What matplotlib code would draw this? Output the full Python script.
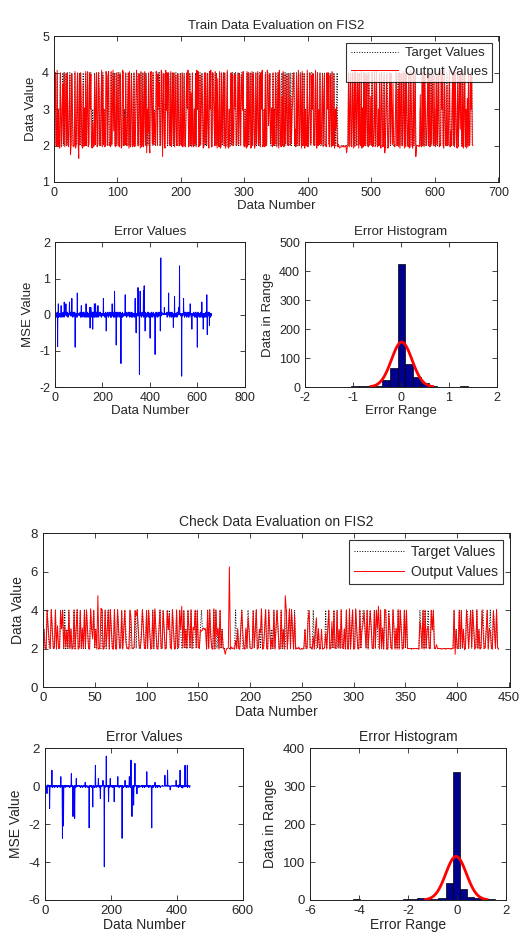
import matplotlib
matplotlib.use('Agg')
import matplotlib.pyplot as plt
import numpy as np

plt.rcParams['font.family'] = ['Liberation Sans', 'DejaVu Sans']
plt.rcParams['axes.unicode_minus'] = False
plt.rcParams['text.color'] = '#262626'
plt.rcParams['axes.labelcolor'] = '#262626'


def digits(s):
    return np.array([int(c) for c in "".join(s.split())], dtype=float)


# ---- train data (target classes, small error digits, big error spikes) ----
train_target = digits("""
3422423224 2234242342 4223422432 2242234224 2432242324 2342243422
3224234224 4223424232 2442342224 2343422423 4224322442 3242234242
2432242234 4224324224 2342423242 2443242322 4424342244 2342243424
4224234242 3422432242 2423422343 4224232422 3242434224 2343224242
3422434224 4324242322 4224234242 2342232242 4224342234 2432443422
3224242342 2424322423 4224243422 3242244334 2232423244 2342422242
4224234224 3242344422 2423422432 4224232242 2342243422 3422423242
2242342224 3422432422 4232342222 2222222222 2224234224 3242432442
4224232424 2342242232 4223423422 3242243224 2234422342 4322222342
2424234224 3242432242 2432242342 2222223224 2424322342 4224234223
2242342224 3422432242 2342223424 2432242343 4224234232 3242243422
""")
train_noise = digits("""
5645365475 4657356465 5364754635 6547465356 4565736454 5746354657
3656475645 6455367456 5475645364 4635746556 5566475345 6453565746
5736456453 4556374655 6345765453 5647354765 4756365436 5465736545
6354675456 4745635564 5563746453 3657456546 5476354657 4563765354
5647453665 6354567436 4765346557 5436756453 6547365445 4655736456
5374654657 6456374546 4537655364 5665437456 3746556453 6457345665
4656357456 5563746545 6745354657 4536765436 5654375645 6347556453
4566375465 5536746455 6754356467 6666566656 6656666566 5736455647
6453746556 5374654365 4657365446 5563754657 3656475654 6547356445
5465736554 4756354657 6345765436 5555655565 5465754635 4657365546
6374556453 5647365465 4536756453 6545736456 5364754657 4655365645
""")
train_spikes = {
    10: -0.88, 13: 0.30, 25: 0.25, 38: 0.35, 45: 0.30, 60: 0.35, 70: 0.45,
    84: -0.90, 93: 0.60, 110: 0.25, 130: 0.30, 145: 0.20, 147: -0.37,
    150: 0.20, 158: -0.40, 165: 0.30, 170: 0.30, 180: 0.25, 203: 0.45,
    215: -0.45, 240: 0.30, 250: 0.65, 257: -0.84, 277: -1.35, 295: 0.55,
    337: 0.45, 341: -0.50, 349: 0.75, 355: -1.65, 358: 0.65, 372: 0.67,
    375: 0.80, 379: -0.45, 400: -0.65, 421: -1.10, 443: -0.45, 445: 1.57,
    460: 0.20, 478: 0.60, 498: -0.35, 503: 0.50, 520: 0.20, 524: 1.35,
    533: -1.70, 541: 0.45, 569: 0.30, 576: -0.40, 599: -0.90, 618: 0.35,
    624: -0.40, 639: 0.55, 641: -0.55, 650: -0.30,
}
train_hist_range = (-1.70, 1.57)
train_hist_counts = [1, 1, 1, 1, 2, 5, 3, 5, 25, 65, 425, 80, 35, 15, 5, 1, 0, 0, 2, 1]
train_fit = dict(mu=0.02, sigma=0.215, peak=155)

# ---- check data ----
check_target = digits("""
3224322432 2422224342 4232423224 2342242324 2432243342 3222224224
2342432242 2432242343 2224222242 4322343224 2432242432 2342243224
3422432242 2432242324 3242234242 2343333242 4322424232 4232222222
2222242322 3422232432 2242342232 4223422432 3242343224 2322423424
3242222222 2232244222 4232232222 2242342232 4224232422 3242242342
2432242344 3242343224 2432242324 4224322432 3242432242 4222222222
2224324242 3422434222 2222222222 2222224232 2424232244 2342432242
3224422342 3422432422
""")
check_noise = digits("""
5465365475 4567356465 5364654635 6546465356 4565636454 5646354656
3656465645 6455366456 5465645364 4635646556 5566465345 6453565646
5636456453 4556364655 6345665453 5646354665 4656365436 5465636545
6354665456 4645635564 5563646453 3656456546 5466354656 4563665354
5646453665 6354566436 4665346556 5436656453 6546365445 4655636456
5364654657 6456364546 4536655364 5665436456 3646556453 5555565555
5565555655 5655565555 5555655565 5556555565 4656357456 5563646545
6645354656 4536665436
""")
check_spikes = {
    5: -0.39, 13: -1.18, 20: 0.84, 47: 0.50, 52: -2.75, 55: -2.10, 79: 0.66,
    84: -1.60, 89: -1.70, 94: 0.40, 121: 0.20, 133: -2.20, 144: -1.10,
    152: 1.10, 161: 0.40, 167: -0.65, 175: 0.30, 179: -4.25, 185: 1.58,
    192: -0.82, 197: 0.40, 209: -0.82, 220: 0.50, 233: -2.75, 242: 0.30,
    255: 0.50, 260: 1.37, 263: -1.60, 268: -1.00, 272: 1.20, 278: -0.40,
    308: 0.76, 323: -2.20, 333: 0.20, 363: 0.57, 371: 0.84, 379: -0.20,
    397: 0.30, 409: 0.84, 417: -0.10, 424: 1.10, 431: 1.10,
}
check_hist_range = (-4.25, 1.58)
check_hist_counts = [2, 0, 0, 0, 1, 0, 1, 2, 3, 4, 2, 2, 5, 45, 338, 28, 8, 5, 3, 2]
check_fit = dict(mu=-0.03, sigma=0.42, peak=115)

assert len(train_target) == len(train_noise) == 660
assert len(check_target) == len(check_noise) == 440


def build_error(noise, spikes):
    err = (noise - 5) * 0.035
    for i, v in spikes.items():
        err[i] = v
    return err


W, H = 522, 936
fig = plt.figure(figsize=(W / 100, H / 100), dpi=100)


def px_axes(l, t, r, b):
    return fig.add_axes([l / W, 1 - b / H, (r - l) / W, (b - t) / H])


def style(ax, fs):
    ax.tick_params(direction='in', top=True, right=True, length=3.5, width=0.6,
                   labelsize=fs, colors='#262626')
    for sp in ax.spines.values():
        sp.set_linewidth(0.7)
        sp.set_color('#202020')


def draw_set(target, noise, spikes, hist_range, hist_counts, fit, name, rects, lims, fs):
    err = build_error(noise, spikes)
    output = target - err
    x = np.arange(1, len(target) + 1)
    tfs, lfs = fs

    ax = px_axes(*rects[0])
    ax.plot(x, target, 'k:', lw=0.7, label='Target Values')
    ax.plot(x, output, color='r', lw=0.7, label='Output Values')
    ax.set_xlim(*lims['main_x'][:2])
    ax.set_xticks(np.arange(*lims['main_x']))
    ax.set_ylim(*lims['main_y'][:2])
    ax.set_yticks(np.arange(*lims['main_y']))
    ax.set_title('%s Data Evaluation on FIS2' % name, fontsize=lfs, pad=5)
    ax.set_xlabel('Data Number', fontsize=lfs, labelpad=1)
    ax.set_ylabel('Data Value', fontsize=lfs, labelpad=4)
    leg = ax.legend(loc='upper right', fontsize=lfs, fancybox=False, handlelength=3.6,
                    borderaxespad=0.5, borderpad=0.35, labelspacing=0.45, handletextpad=0.5)
    leg.get_frame().set_edgecolor('k')
    leg.get_frame().set_linewidth(0.8)
    style(ax, tfs)

    ax = px_axes(*rects[1])
    ax.plot(x, err, color='b', lw=0.7)
    ax.set_xlim(*lims['err_x'][:2])
    ax.set_xticks(np.arange(*lims['err_x']))
    ax.set_ylim(*lims['err_y'][:2])
    ax.set_yticks(np.arange(*lims['err_y']))
    ax.set_title('Error Values', fontsize=lfs, pad=5)
    ax.set_xlabel('Data Number', fontsize=lfs, labelpad=1)
    ax.set_ylabel('MSE Value', fontsize=lfs, labelpad=4)
    style(ax, tfs)

    ax = px_axes(*rects[2])
    lo, hi = hist_range
    nb = len(hist_counts)
    w = (hi - lo) / nb
    centers = lo + w * (np.arange(nb) + 0.5)
    ax.bar(centers, hist_counts, width=w, color='#00008F', edgecolor='k', lw=0.5)
    fx = np.linspace(fit['mu'] - 3 * fit['sigma'], fit['mu'] + 3 * fit['sigma'], 120)
    fy = fit['peak'] * np.exp(-(fx - fit['mu']) ** 2 / (2 * fit['sigma'] ** 2))
    ax.plot(fx, fy, color='r', lw=2)
    ax.set_xlim(*lims['hist_x'][:2])
    ax.set_xticks(np.arange(*lims['hist_x']))
    ax.set_ylim(*lims['hist_y'][:2])
    ax.set_yticks(np.arange(*lims['hist_y']))
    ax.set_title('Error Histogram', fontsize=lfs, pad=5)
    ax.set_xlabel('Error Range', fontsize=lfs, labelpad=1)
    ax.set_ylabel('Data in Range', fontsize=lfs, labelpad=4)
    style(ax, tfs)


draw_set(train_target, train_noise, train_spikes, train_hist_range, train_hist_counts,
         train_fit, 'Train',
         [(54, 36, 499, 182), (55, 242, 245, 387), (305, 242, 497, 387)],
         dict(main_x=(0, 701, 100), main_y=(1, 5.01, 1), err_x=(0, 801, 200),
              err_y=(-2, 2.01, 1), hist_x=(-2, 2.01, 1), hist_y=(0, 501, 100)),
         (9, 9.5))

draw_set(check_target, check_noise, check_spikes, check_hist_range, check_hist_counts,
         check_fit, 'Check',
         [(43, 533, 510, 687), (45, 748, 243, 900), (310, 748, 506, 900)],
         dict(main_x=(0, 451, 50), main_y=(0, 8.01, 2), err_x=(0, 601, 200),
              err_y=(-6, 2.01, 2), hist_x=(-6, 2.01, 2), hist_y=(0, 401, 100)),
         (9.5, 10))

fig.savefig('out.png', dpi=100)
